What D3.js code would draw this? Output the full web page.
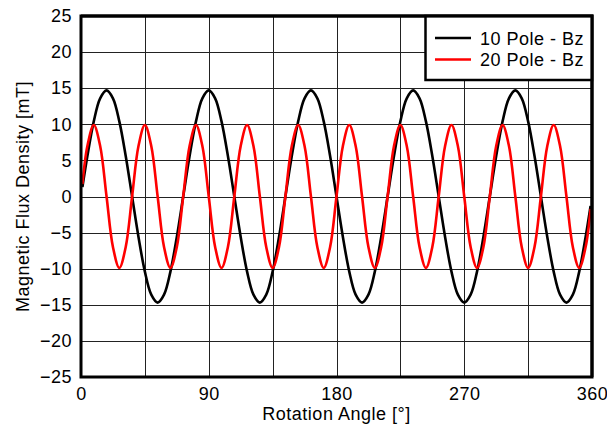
<!DOCTYPE html>
<html>
<head>
<meta charset="utf-8">
<script src="https://cdn.jsdelivr.net/npm/d3@7"></script>
<style>
  html, body { margin: 0; padding: 0; background: #fff; }
  svg { display: block; font-family: "Liberation Sans", Arial, Helvetica, sans-serif; }
  svg text { letter-spacing: 0.5px; }
</style>
</head>
<body>
<svg id="chart" width="607" height="430"></svg>
<script>
// ---- Data ----
const angles = [1, 4.5, 9, 13.5, 18, 22.5, 27, 31.5, 36, 40.5, 45, 49.5, 54, 58.5, 63, 67.5,
  72, 76.5, 81, 85.5, 90, 94.5, 99, 103.5, 108, 112.5, 117, 121.5, 126, 130.5, 135, 139.5,
  144, 148.5, 153, 157.5, 162, 166.5, 171, 175.5, 180, 184.5, 189, 193.5, 198, 202.5, 207, 211.5,
  216, 220.5, 225, 229.5, 234, 238.5, 243, 247.5, 252, 256.5, 261, 265.5, 270, 274.5, 279, 283.5,
  288, 292.5, 297, 301.5, 306, 310.5, 315, 319.5, 324, 328.5, 333, 337.5, 342, 346.5, 351, 355.5,
  359];

const pole10 = [
  1.3, 5.6, 10.4, 13.6, 14.7, 13.6, 10.4, 5.6, 0, -5.6, -10.4, -13.6, -14.7, -13.6, -10.4, -5.6,
  0, 5.6, 10.4, 13.6, 14.7, 13.6, 10.4, 5.6, 0, -5.6, -10.4, -13.6, -14.7, -13.6, -10.4, -5.6,
  0, 5.6, 10.4, 13.6, 14.7, 13.6, 10.4, 5.6, 0, -5.6, -10.4, -13.6, -14.7, -13.6, -10.4, -5.6,
  0, 5.6, 10.4, 13.6, 14.7, 13.6, 10.4, 5.6, 0, -5.6, -10.4, -13.6, -14.7, -13.6, -10.4, -5.6,
  0, 5.6, 10.4, 13.6, 14.7, 13.6, 10.4, 5.6, 0, -5.6, -10.4, -13.6, -14.7, -13.6, -10.4, -5.6,
  -1.3];

const pole20 = [
  1.7, 7.0, 9.9, 7.0, 0, -7.0, -9.9, -7.0,
  0, 7.0, 9.9, 7.0, 0, -7.0, -9.9, -7.0,
  0, 7.0, 9.9, 7.0, 0, -7.0, -9.9, -7.0,
  0, 7.0, 9.9, 7.0, 0, -7.0, -9.9, -7.0,
  0, 7.0, 9.9, 7.0, 0, -7.0, -9.9, -7.0,
  0, 7.0, 9.9, 7.0, 0, -7.0, -9.9, -7.0,
  0, 7.0, 9.9, 7.0, 0, -7.0, -9.9, -7.0,
  0, 7.0, 9.9, 7.0, 0, -7.0, -9.9, -7.0,
  0, 7.0, 9.9, 7.0, 0, -7.0, -9.9, -7.0,
  0, 7.0, 9.9, 7.0, 0, -7.0, -9.9, -7.0,
  -1.7];

const xTicks = [0, 90, 180, 270, 360];
const xGrid = [45, 90, 135, 180, 225, 270, 315];
const yTicks = [-25, -20, -15, -10, -5, 0, 5, 10, 15, 20, 25];
const seriesNames = ["10 Pole - Bz", "20 Pole - Bz"];
const seriesColors = ["#000000", "#ff0000"];

// ---- Layout ----
const FS = 18;
const svg = d3.select("#chart");
const L = 81, R = 592, T = 16, B = 377;

const x = d3.scaleLinear().domain([0, 360]).range([L, R]);
const y = d3.scaleLinear().domain([-25, 25]).range([B, T]);

// clip
svg.append("defs").append("clipPath").attr("id", "clip")
  .append("rect").attr("x", L).attr("y", T).attr("width", R - L).attr("height", B - T);

// grid
const grid = svg.append("g").attr("stroke", "#222").attr("stroke-width", 1).attr("shape-rendering", "crispEdges");
grid.selectAll("line.v").data(xGrid).join("line").attr("class", "v")
  .attr("x1", d => Math.round(x(d)) + 0.5).attr("x2", d => Math.round(x(d)) + 0.5)
  .attr("y1", T).attr("y2", B);
grid.selectAll("line.h").data(yTicks.slice(1, -1)).join("line").attr("class", "h")
  .attr("y1", d => Math.round(y(d)) + 0.5).attr("y2", d => Math.round(y(d)) + 0.5)
  .attr("x1", L).attr("x2", R);

// axes (labels only)
const yAxis = d3.axisLeft(y).tickValues(yTicks).tickSize(0).tickPadding(9).tickFormat(d3.format("d"));
const gy = svg.append("g").attr("transform", `translate(${L},0)`).call(yAxis);
gy.select(".domain").remove();
gy.selectAll("text").attr("font-size", FS).attr("fill", "#000")
  .attr("font-family", "'Liberation Sans', Arial, sans-serif");

const xAxis = d3.axisBottom(x).tickValues(xTicks).tickSize(0).tickPadding(10).tickFormat(d3.format("d"));
const gx = svg.append("g").attr("transform", `translate(0,${B})`).call(xAxis);
gx.select(".domain").remove();
gx.selectAll("text").attr("font-size", FS).attr("fill", "#000")
  .attr("font-family", "'Liberation Sans', Arial, sans-serif");

// lines
const line = d3.line().x(d => x(d[0])).y(d => y(d[1])).curve(d3.curveCatmullRom.alpha(0.5));
const plot = svg.append("g").attr("clip-path", "url(#clip)");
[pole10, pole20].forEach((vals, i) => {
  plot.append("path")
    .datum(angles.map((a, j) => [a, vals[j]]))
    .attr("fill", "none")
    .attr("stroke", seriesColors[i])
    .attr("stroke-width", 2.6)
    .attr("d", line);
});

// border
svg.append("rect").attr("x", L).attr("y", T).attr("width", R - L).attr("height", B - T)
  .attr("fill", "none").attr("stroke", "#000").attr("stroke-width", 3);

// legend
const lg = svg.append("g");
lg.append("rect").attr("x", 425.5).attr("y", T).attr("width", R - 425.5).attr("height", 80 - T)
  .attr("fill", "#fff").attr("stroke", "#000").attr("stroke-width", 2.5);
seriesNames.forEach((name, i) => {
  const yy = 38 + i * 21.5;
  lg.append("line").attr("x1", 435).attr("x2", 471).attr("y1", yy).attr("y2", yy)
    .attr("stroke", seriesColors[i]).attr("stroke-width", 2.6);
  lg.append("text").attr("x", 480).attr("y", yy + 6.5).attr("font-size", FS).attr("fill", "#000")
    .text(name);
});
// re-draw the top/right border over the legend box
svg.append("path")
  .attr("d", `M${L},${T}H${R}V${B}`)
  .attr("fill", "none").attr("stroke", "#000").attr("stroke-width", 3);

// axis titles
svg.append("text").attr("x", (L + R) / 2).attr("y", 420).attr("text-anchor", "middle")
  .attr("font-size", FS).attr("fill", "#000").text("Rotation Angle [°]");
svg.append("text").attr("transform", `translate(29,${(T + B) / 2}) rotate(-90)`)
  .attr("text-anchor", "middle").attr("font-size", FS).attr("fill", "#000")
  .text("Magnetic Flux Density [mT]");
</script>
</body>
</html>
